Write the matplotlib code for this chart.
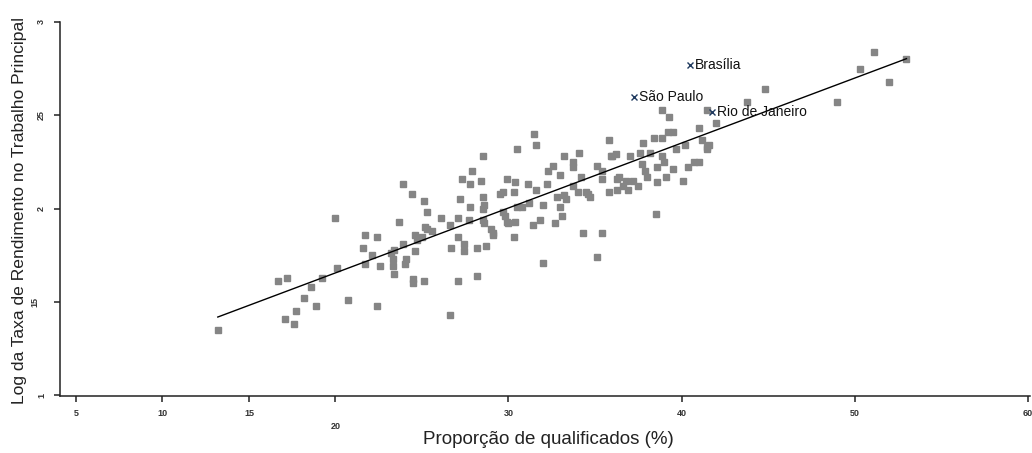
import numpy as np
import matplotlib
matplotlib.use("Agg")
from matplotlib import pyplot as plt

# proportion of qualified workers (%) and log of income rate
qualif = [13.2, 16.7, 17.2, 17.1, 17.6, 17.7, 18.2, 18.6, 18.9, 19.2, 20.0, 20.1, 20.7, 21.7, 21.6,
          22.1, 21.7, 22.4, 22.4, 22.6, 23.2, 23.3, 23.3, 23.4, 23.9, 23.9, 24.1, 24.0, 23.7, 24.4,
          24.5, 24.5, 25.1, 24.6, 24.6, 25.1, 25.3, 25.2, 25.0, 25.6, 26.1, 26.6, 26.7, 26.6, 27.1,
          27.1, 27.2, 27.1, 27.3, 27.4, 27.4, 27.8, 27.9, 27.8, 27.7, 28.2, 28.2, 28.4, 28.5, 28.5,
          28.6, 28.7, 28.5, 29.0, 29.1, 29.5, 29.7, 29.8, 29.9, 29.9, 30.3, 30.4, 30.3, 30.5, 31.1,
          30.8, 31.4, 31.5, 31.6, 31.6, 31.8, 32.0, 32.0, 32.3, 32.2, 38.9, 39.3, 39.2, 38.9, 41.0,
          41.2, 41.5, 42.0, 35.8, 34.1, 33.2, 33.7, 33.7, 32.6, 33.0, 32.7, 33.0, 33.3, 33.1, 33.2,
          33.7, 34.0, 34.2, 34.5, 34.7, 34.3, 35.4, 35.1, 35.1, 35.4, 35.4, 35.8, 36.0, 36.2, 35.9,
          36.4, 36.3, 36.3, 36.8, 36.9, 37.0, 37.6, 37.7, 37.8, 37.5, 37.9, 38.0, 38.2, 38.4, 38.5,
          38.6, 38.6, 38.9, 39.0, 39.1, 39.5, 40.1, 40.4, 40.7, 41.0, 41.5, 51.1, 50.3, 53.0, 52.0,
          49.0, 44.8, 43.8, 41.6, 41.5, 40.2, 39.7, 39.5, 28.5, 29.1, 29.7, 30.0, 30.4, 30.5, 25.3,
          28.6, 23.4, 24.7, 34.6, 36.6, 37.2, 31.2, 32.8]
log_rend = [1.35, 1.61, 1.63, 1.41, 1.38, 1.45, 1.52, 1.58, 1.48, 1.63, 1.95, 1.68, 1.51, 1.86, 1.79,
            1.75, 1.70, 1.85, 1.48, 1.69, 1.76, 1.73, 1.69, 1.65, 2.13, 1.81, 1.73, 1.70, 1.93, 2.08,
            1.62, 1.60, 1.61, 1.86, 1.77, 2.04, 1.98, 1.90, 1.85, 1.88, 1.95, 1.91, 1.79, 1.43, 1.61,
            1.95, 2.05, 1.85, 2.16, 1.81, 1.77, 2.13, 2.20, 2.01, 1.94, 1.79, 1.64, 2.15, 2.28, 2.06,
            2.02, 1.80, 1.94, 1.89, 1.87, 2.08, 2.09, 1.96, 2.16, 1.93, 1.85, 2.14, 2.09, 2.32, 2.13,
            2.01, 1.91, 2.40, 2.34, 2.10, 1.94, 2.02, 1.71, 2.20, 2.13, 2.53, 2.49, 2.41, 2.38, 2.43,
            2.37, 2.33, 2.46, 2.37, 2.30, 2.28, 2.25, 2.22, 2.23, 2.18, 1.92, 2.01, 2.05, 1.96, 2.07,
            2.12, 2.09, 2.17, 2.09, 2.06, 1.87, 1.87, 1.74, 2.23, 2.20, 2.16, 2.09, 2.28, 2.29, 2.28,
            2.17, 2.16, 2.10, 2.15, 2.10, 2.28, 2.30, 2.24, 2.35, 2.12, 2.20, 2.17, 2.30, 2.38, 1.97,
            2.14, 2.22, 2.28, 2.25, 2.17, 2.21, 2.15, 2.22, 2.25, 2.25, 2.32, 2.84, 2.75, 2.80, 2.68,
            2.57, 2.64, 2.57, 2.34, 2.53, 2.34, 2.32, 2.41, 2.00, 1.86, 1.98, 1.92, 1.93, 2.01, 1.89,
            1.92, 1.78, 1.83, 2.08, 2.12, 2.15, 2.03, 2.06]

# highlighted capitals
cities = ["Brasília", "São Paulo", "Rio de Janeiro"]
city_x = [40.5, 37.25, 41.76]
city_y = [2.77, 2.60, 2.52]

# fitted line
slope, intercept = 0.0348, 0.959

x_ticks = [5, 10, 15, 20, 30, 40, 50, 60]
y_ticks = [1, 1.5, 2, 2.5, 3]
y_tick_labels = ["1", "15", "2", "25", "3"]

plt.rcParams['font.family'] = ['Liberation Sans', 'DejaVu Sans']

fig = plt.figure(figsize=(10.32, 4.53), dpi=100)
ax = fig.add_axes([60 / 1032, 57 / 453, 970 / 1032, 374 / 453])

ax.plot(qualif, log_rend, 's', color="#858585", ms=3.7, mec="#858585", lw=0)

xs = np.array([min(qualif), max(qualif)])
ax.plot(xs, intercept + slope * xs, color="black", lw=1.0)

ax.plot(city_x, city_y, 'x', color="#1f3a5f", ms=4, mew=1)
for name, cx, cy in zip(cities, city_x, city_y):
    ax.text(cx + 0.3, cy, name, fontsize=10, va='center', ha='left', color="#111111")

ax.set_xlim(4.08, 60.14)
ax.set_ylim(0.995, 3.0)
ax.spines['top'].set_visible(False)
ax.spines['right'].set_visible(False)
for s in ['left', 'bottom']:
    ax.spines[s].set_linewidth(1.1)
    ax.spines[s].set_color("#222222")

ax.set_xticks(x_ticks)
ax.set_xticklabels([str(t) for t in x_ticks], fontsize=6.5, fontweight='bold')
ax.set_yticks(y_ticks)
ax.set_yticklabels(y_tick_labels, fontsize=6.5, fontweight='bold', rotation=90, va='center')
ax.tick_params(axis='both', length=4.5, width=1.1, color="#222222", labelcolor="#333333")
ax.tick_params(axis='x', pad=4.5)
ax.tick_params(axis='y', pad=5.5)

# the 20 and 15 ticks are drawn longer with labels pushed away
t20 = ax.xaxis.get_major_ticks()[3]
t20.tick1line.set_markersize(13)
t20.set_pad(14.5)
t15 = ax.yaxis.get_major_ticks()[1]
t15.tick1line.set_markersize(9.5)
t15.set_pad(10.5)

ax.set_xlabel("Proporção de qualificados (%)", fontsize=13.5, color="#222222")
ax.xaxis.set_label_coords(0.503, -0.093)
ax.set_ylabel("Log da Taxa de Rendimento no Trabalho Principal", fontsize=12.6, color="#222222")
ax.yaxis.set_label_coords(-0.034, 0.497)

fig.savefig("out.png", dpi=100)
